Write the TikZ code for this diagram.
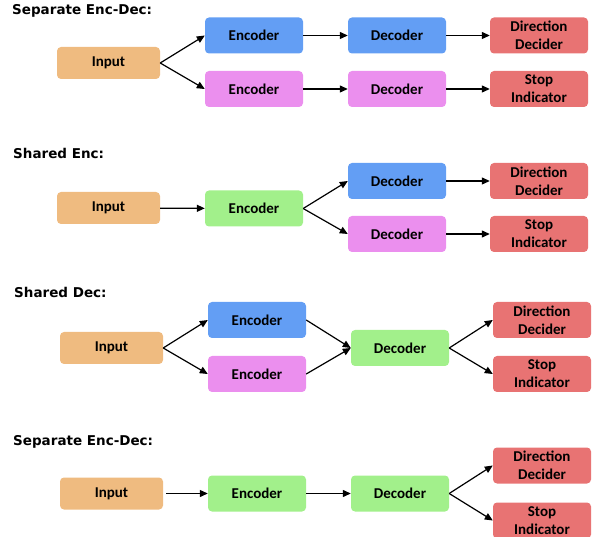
\documentclass[tikz,border=0pt]{standalone}
\usepackage{fontspec}
\setmainfont{Carlito}
\newfontfamily\titlefont{DejaVu Sans}
\usetikzlibrary{arrows.meta}
\definecolor{inorange}{HTML}{EFBB80}
\definecolor{encblue}{HTML}{639EF4}
\definecolor{encpink}{HTML}{EB8FEE}
\definecolor{outred}{HTML}{E87373}
\definecolor{encgreen}{HTML}{A2F08B}
\tikzset{
	box/.style={rounded corners=4pt, minimum width=98pt, minimum height=36pt, inner sep=0pt, align=center, font=\bfseries\fontsize{15}{18}\selectfont},
	inbox/.style={box, fill=inorange, minimum width=103pt, minimum height=32pt},
	outbox/.style={box, fill=outred},
	arr/.style={-{Triangle[length=8pt,width=7pt]}, line width=1.2pt},
	ttl/.style={anchor=base west, inner sep=0pt, font=\titlefont\bfseries\fontsize{13.5}{16}\selectfont}
}

\begin{document}
\begin{tikzpicture}[x=1pt,y=-1pt]
		\useasboundingbox (0,0) rectangle (592,537);
		
		% separate encoders and decoders
		\node[ttl] (t1) at (12,15) {Separate Enc-Dec:};
		\node[inbox] (in1) at (108.5,63) {Input};
		\node[box, fill=encblue] (enc1a) at (254,35.5) {Encoder};
		\node[box, fill=encpink] (enc1b) at (254,89) {Encoder};
		\node[box, fill=encblue] (dec1a) at (397,35.5) {Decoder};
		\node[box, fill=encpink] (dec1b) at (397,89) {Decoder};
		\node[outbox] (dir1) at (539,35.5) {Direction\\Decider};
		\node[outbox] (stop1) at (539,89) {Stop\\Indicator};
		\draw[arr] (in1.east) -- (enc1a.west);
		\draw[arr] (in1.east) -- (enc1b.west);
		\draw[arr] (enc1a) -- (dec1a);
		\draw[arr] (enc1b) -- (dec1b);
		\draw[arr] (dec1a) -- (dir1);
		\draw[arr] (dec1b) -- (stop1);
		
		% shared encoder
		\node[ttl] (t2) at (13,159) {Shared Enc:};
		\node[inbox] (in2) at (108.5,208) {Input};
		\node[box, fill=encgreen] (enc2) at (254,208.5) {Encoder};
		\node[box, fill=encblue] (dec2a) at (397,181) {Decoder};
		\node[box, fill=encpink] (dec2b) at (397,234) {Decoder};
		\node[outbox] (dir2) at (539,181) {Direction\\Decider};
		\node[outbox] (stop2) at (539,234) {Stop\\Indicator};
		\draw[arr] (in2) -- (enc2);
		\draw[arr] (enc2.east) -- (dec2a.west);
		\draw[arr] (enc2.east) -- (dec2b.west);
		\draw[arr] (dec2a) -- (dir2);
		\draw[arr] (dec2b) -- (stop2);
		
		% shared decoder
		\node[ttl] (t3) at (14,298) {Shared Dec:};
		\node[inbox] (in3) at (111.5,348) {Input};
		\node[box, fill=encblue] (enc3a) at (257,320) {Encoder};
		\node[box, fill=encpink] (enc3b) at (257,374) {Encoder};
		\node[box, fill=encgreen] (dec3) at (400,348) {Decoder};
		\node[outbox] (dir3) at (542,320) {Direction\\Decider};
		\node[outbox] (stop3) at (542,374) {Stop\\Indicator};
		\draw[arr] (in3.east) -- (enc3a.west);
		\draw[arr] (in3.east) -- (enc3b.west);
		\draw[arr] (enc3a.east) -- (dec3.west);
		\draw[arr] (enc3b.east) -- (dec3.west);
		\draw[arr] (dec3.east) -- (dir3.west);
		\draw[arr] (dec3.east) -- (stop3.west);
		
		% shared encoder and decoder
		\node[ttl] (t4) at (13,446) {Separate Enc-Dec:};
		\node[inbox] (in4) at (111.5,493.5) {Input};
		\node[box, fill=encgreen] (enc4) at (257,493.5) {Encoder};
		\node[box, fill=encgreen] (dec4) at (400,493.5) {Decoder};
		\node[outbox] (dir4) at (542,465.5) {Direction\\Decider};
		\node[outbox] (stop4) at (542,520.5) {Stop\\Indicator};
		\draw[arr, shorten <=3pt] (in4) -- (enc4);
		\draw[arr] (enc4) -- (dec4);
		\draw[arr] (dec4.east) -- (dir4.west);
		\draw[arr] (dec4.east) -- (stop4.west);
\end{tikzpicture}
\end{document}
